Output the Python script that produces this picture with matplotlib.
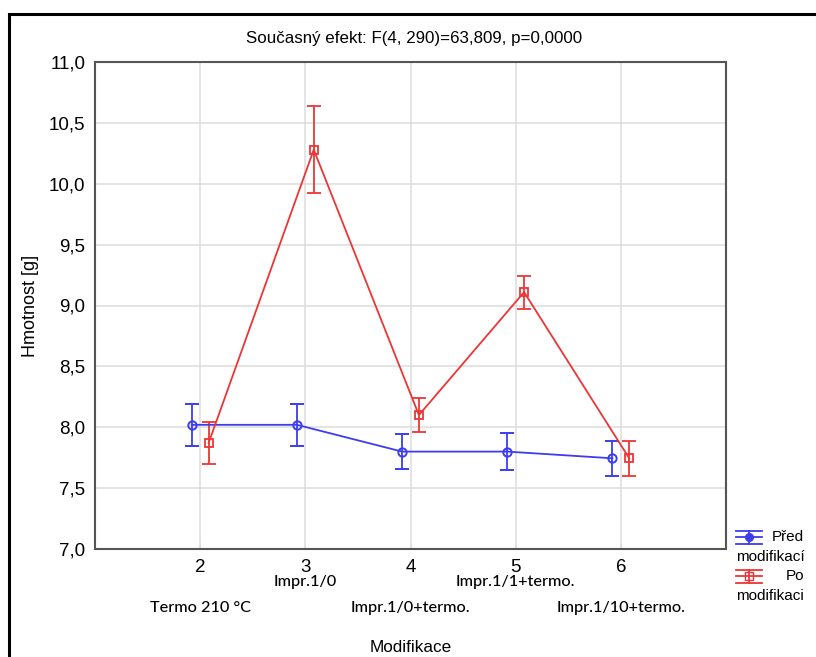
import matplotlib
matplotlib.use("Agg")
import matplotlib.pyplot as plt
from matplotlib.lines import Line2D
from matplotlib.patches import Rectangle
from matplotlib.ticker import FuncFormatter

# ---- data ----
x_codes = [2, 3, 4, 5, 6]
categories = ["Termo 210 °C", "Impr.1/0", "Impr.1/0+termo.", "Impr.1/1+termo.", "Impr.1/10+termo."]
pred = [8.02, 8.02, 7.80, 7.80, 7.745]
pred_err = [0.17, 0.17, 0.145, 0.155, 0.145]
po = [7.87, 10.28, 8.10, 9.11, 7.745]
po_err = [0.17, 0.36, 0.14, 0.135, 0.145]
title = "Současný efekt: F(4, 290)=63,809, p=0,0000"
y_ticks = [7.0, 7.5, 8.0, 8.5, 9.0, 9.5, 10.0, 10.5, 11.0]

W, H = 816, 657
fig = plt.figure(figsize=(W / 100, H / 100), dpi=100)
plt.rcParams['font.family'] = ['Liberation Sans', 'DejaVu Sans']

def fx(px):
    return px / W

def fy(py):
    return 1 - py / H

# outer frame
fig.add_artist(Rectangle((fx(9), fy(700)), fx(900), (700 - 14) / H,
                         transform=fig.transFigure, fill=False,
                         edgecolor='black', linewidth=2.2, clip_on=False))

ax = fig.add_axes([fx(95), fy(549), fx(726 - 95), (549 - 62) / H])
blue = '#3c3cf0'
red = '#ee3535'
off = 0.08

xb = [x - off for x in x_codes]
xr = [x + off for x in x_codes]
ax.errorbar(xb, pred, yerr=pred_err, color=blue, lw=1.3, capsize=5, capthick=1.3,
            marker='o', ms=6, mfc='none', mec=blue, mew=1.4, zorder=3)
ax.errorbar(xr, po, yerr=po_err, color=red, lw=1.3, capsize=5, capthick=1.3,
            marker='s', ms=6, mfc='none', mec=red, mew=1.3, zorder=3)

ax.set_xlim(1, 7)
ax.set_ylim(7, 11)
ax.set_xticks(x_codes)
ax.set_yticks(y_ticks)
ax.yaxis.set_major_formatter(FuncFormatter(lambda v, p: f"{v:.1f}".replace('.', ',')))
ax.grid(True, color='#dcdcdc', lw=1.1)
ax.set_axisbelow(True)
for s in ax.spines.values():
    s.set_color('#555555')
    s.set_linewidth(1.5)
ax.tick_params(axis='y', length=0, pad=7, labelsize=13.5)
ax.tick_params(axis='x', length=4, direction='in', color='#dcdcdc', pad=7, labelsize=13.5)

# category labels (staggered)
for i, (xc, lab) in enumerate(zip(x_codes, categories)):
    ypx = 608 if i % 2 == 0 else 582
    fig.text(ax.transData.transform((xc, 7))[0] / W, fy(ypx), lab,
             ha='center', va='center', fontsize=11.7, fontweight='medium',
             family=['Lato', 'DejaVu Sans'])

fig.text(fx(414), fy(38), title, ha='center', va='center', fontsize=12.2)
fig.text(fx(411), fy(647), "Modifikace", ha='center', va='center', fontsize=12.3)
fig.text(fx(31), fy(306), "Hmotnost [g]", ha='center', va='center', rotation=90, fontsize=13)

# legend (manual)
def handle(ymid, color, marker):
    for dy in (-6.5, 0, 6.5):
        fig.add_artist(Line2D([fx(736), fx(762)], [fy(ymid + dy), fy(ymid + dy)],
                              color=color, lw=1.3, transform=fig.transFigure))
    fig.add_artist(Line2D([fx(749), fx(749)], [fy(ymid - 6.5), fy(ymid + 6.5)],
                          color=color, lw=1.3, transform=fig.transFigure))
    fig.add_artist(Line2D([fx(749)], [fy(ymid)], marker=marker, ms=5.5,
                          color=color, mfc=color if marker == 'o' else 'none',
                          mec=color, transform=fig.transFigure))

handle(537, blue, 'o')
fig.text(fx(804), fy(537), "Před", ha='right', va='center', fontsize=11)
fig.text(fx(736), fy(557), "modifikací", ha='left', va='center', fontsize=11)
handle(576, red, 's')
fig.text(fx(804), fy(576), "Po", ha='right', va='center', fontsize=11)
fig.text(fx(736), fy(596), "modifikaci", ha='left', va='center', fontsize=11)

fig.savefig("out.png", dpi=100)
